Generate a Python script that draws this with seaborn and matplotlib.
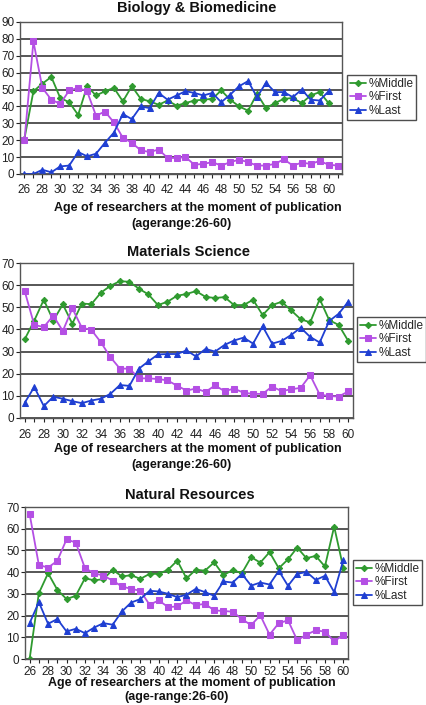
import numpy as np
import pandas as pd
import seaborn as sns
import matplotlib.pyplot as plt
from matplotlib.ticker import MultipleLocator

nan = np.nan

# ages on the x axis (biology panel has one extra category)
ages_bio = list(range(26, 62))
ages = list(range(26, 61))

series_names = ["%Middle", "%First", "%Last"]

bio_middle = [21, 49, 53.5, 57.5, 45, 42.5, 35, 52, 46.5, 49, 51, 43, 52, 44.5, 43,
              41, 43.5, 40.5, 42, 43.5, 44, 44.5, 49.5, 44, 40, 37.5, 47.5, 39, 42,
              44.5, 45, 42, 46.5, 48.5, 42, nan]
bio_first = [20, 78.5, 51, 44, 41.5, 49.5, 51, 49, 34.5, 37, 30.5, 21.5, 18.5, 14, 13,
             14.5, 9.5, 9.5, 10, 5.5, 6, 7, 5, 7, 8.5, 7, 5, 5, 6, 8.7, 5, 6.7, 6,
             7.7, 5.5, 5]
bio_last = [0, 0, 2.5, 1, 4.5, 5, 13, 10.5, 12, 18.5, 24.5, 35.5, 32.5, 40, 39, 48,
            44, 46.5, 49, 48, 46.5, 48, 42.5, 47, 52, 55, 45.5, 54, 48.5, 48.5, 45.5,
            50, 44, 43.5, 49, nan]

mat_middle = [35.6, 44, 53.4, 44, 51.3, 42.6, 51.7, 51.4, 56.6, 59.7, 61.8, 61.5,
              58.4, 55.8, 51, 52.5, 55.2, 56, 57.3, 54.7, 54.2, 54.6, 51, 51, 53.4,
              46.5, 51, 52.5, 48.6, 44.6, 43.2, 53.7, 44.2, 42, 34.8]
mat_first = [57.2, 42, 41.1, 46.2, 39.3, 49.5, 40.8, 39.8, 34.2, 27.5, 22.3, 22.3,
             17.9, 17.9, 17.6, 17, 14.6, 12.4, 13.3, 11.8, 14.7, 12.1, 13.3, 11.4,
             10.9, 10.9, 14.2, 12.1, 13, 13.6, 19.3, 10.6, 9.9, 9.7, 12]
mat_last = [6.9, 14, 5.4, 9.6, 8.7, 7.6, 6.7, 7.9, 8.7, 10.9, 14.9, 14.5, 22.3, 25.6,
            28.7, 28.9, 28.9, 30.5, 27.8, 31.2, 30, 33, 35, 36.3, 33.6, 41.4, 33.6,
            34.8, 37.5, 40.8, 36.6, 34.1, 43.8, 47.1, 52.5]

nat_middle = [0, 30.3, 39.5, 31.9, 27.6, 29.1, 37.2, 36.2, 36.8, 41.1, 38, 38.6, 36.9,
              39.2, 39.2, 41.1, 45.3, 37.1, 41.1, 40.7, 44.5, 38.6, 41, 39.5, 46.9,
              44.4, 49.2, 41.8, 45.9, 51.3, 46.4, 47.5, 42.6, 61, 41.8]
nat_first = [66.8, 43.3, 42.1, 45.2, 55.1, 53.6, 41.8, 39.5, 38.4, 36.1, 33.4, 32.3,
             31.4, 25, 27, 23.9, 24.2, 27, 24.8, 25.4, 22.4, 22.1, 21.8, 18.4, 15.6,
             20.1, 11.2, 16.5, 17.8, 8.6, 11.2, 13.2, 12.6, 8.1, 11.2]
nat_last = [16.5, 26.2, 16.2, 18.4, 12.7, 13.9, 11.9, 14.5, 16.5, 15.8, 21.9, 26, 27.6,
            31.4, 31.1, 30, 28.5, 29.6, 32.3, 30.8, 29.1, 35.7, 35.2, 39.2, 33.8, 35.2,
            34.3, 40.6, 33.7, 39.2, 40.1, 36.4, 38.3, 30.8, 45.6]

colors = {"%Middle": "#2f9a2f", "%First": "#b44fe4", "%Last": "#1f3fd2"}
markers = {"%Middle": "D", "%First": "s", "%Last": "^"}
msizes = {"%Middle": 3.2, "%First": 4.2, "%Last": 4.2}

sns.set_style("white")
plt.rcParams["font.family"] = ["Liberation Sans", "DejaVu Sans"]

W, H = 427, 705
fig = plt.figure(figsize=(W / 100, H / 100), dpi=100)


def px_axes(left, top, right, bottom):
    return fig.add_axes([left / W, 1 - bottom / H, (right - left) / W, (bottom - top) / H])


def draw_panel(ax, x, middle, first, last, ymax, xmax, pad):
    for name, vals in zip(series_names, [middle, first, last]):
        df = pd.DataFrame({"age": x, "val": vals}).dropna()
        sns.lineplot(data=df, x="age", y="val", ax=ax, color=colors[name],
                     marker=markers[name], markersize=msizes[name],
                     markeredgecolor=colors[name], linewidth=1.3, label=name)
    ax.set_xlim(25.5, xmax + 0.5)
    ax.set_ylim(0, ymax)
    ax.yaxis.set_major_locator(MultipleLocator(10))
    ax.set_xticks(list(range(26, 61, 2)))
    ax.xaxis.set_minor_locator(MultipleLocator(1))
    ax.yaxis.grid(True, color="#3a3a3a", linewidth=1.2)
    ax.set_axisbelow(True)
    ax.set_xlabel("")
    ax.set_ylabel("")
    ax.tick_params(axis="both", labelsize=8.5, colors="#222222", direction="out")
    ax.tick_params(axis="x", which="both", length=3, width=0.8, pad=pad, bottom=True)
    ax.tick_params(axis="y", length=3, width=0.8, pad=1, left=True)
    for s in ax.spines.values():
        s.set_color("#555555")
        s.set_linewidth(1.0)
    ax.get_legend().remove()


def add_legend(ax, x0, y0):
    handles, labels = ax.get_legend_handles_labels()
    fig.legend(handles, labels, loc="upper left",
               bbox_to_anchor=(x0 / W, 1 - y0 / H), bbox_transform=fig.transFigure,
               fontsize=8.5, frameon=True, fancybox=False, edgecolor="#222222",
               borderpad=0.25, handlelength=1.4, handletextpad=0.15,
               labelspacing=0.12, borderaxespad=0)


def ftext(x, y, s, size, weight="bold"):
    fig.text(x / W, 1 - y / H, s, ha="center", va="center", fontsize=size,
             fontweight=weight, color="#111111")


# Biology & Biomedicine
ax1 = px_axes(20, 22, 342, 174)
draw_panel(ax1, ages_bio, bio_middle, bio_first, bio_last, 90, 61, 4)
add_legend(ax1, 347, 75)
ftext(197, 8, "Biology & Biomedicine", 10.5)
ftext(198, 208, "Age of researchers at the moment of publication", 9)
ftext(181, 224, "(agerange:26-60)", 9)

# Materials Science
ax2 = px_axes(20, 263, 353, 418)
draw_panel(ax2, ages, mat_middle, mat_first, mat_last, 70, 60, 5)
add_legend(ax2, 357, 317)
ftext(189, 252, "Materials Science", 10.5)
ftext(198, 449, "Age of researchers at the moment of publication", 9)
ftext(181, 465, "(agerange:26-60)", 9)

# Natural Resources
ax3 = px_axes(25, 507, 348, 659)
draw_panel(ax3, ages, nat_middle, nat_first, nat_last, 70, 60, 2)
add_legend(ax3, 353, 560)
ftext(190, 495, "Natural Resources", 10.5)
ftext(192, 683, "Age of researchers at the moment of publication", 9)
ftext(177, 697, "(age-range:26-60)", 9)

fig.savefig("out.png", dpi=100)
